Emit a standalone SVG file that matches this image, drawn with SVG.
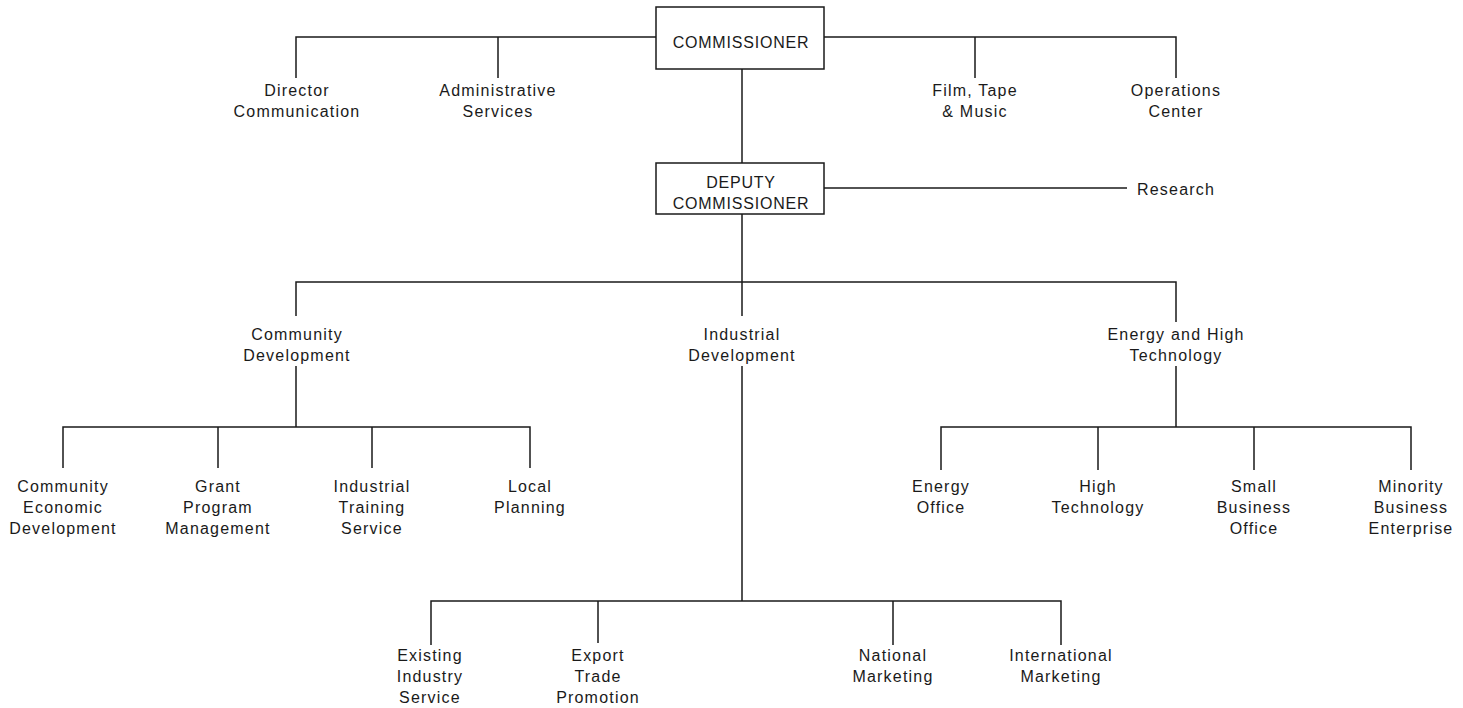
<svg xmlns="http://www.w3.org/2000/svg" width="1463" height="708" viewBox="0 0 1463 708">
<style>
text{font-family:"Liberation Sans",Arial,sans-serif;font-size:16px;fill:#1a1a1a;text-anchor:middle;letter-spacing:1.2px}
text.caps{letter-spacing:0.8px}
text.left{text-anchor:start}
.box{fill:#fff;stroke:#1a1a1a;stroke-width:1.5}
#connectors path{fill:none;stroke:#1a1a1a;stroke-width:1.5}
</style>
<rect width="1463" height="708" fill="#fff"/>
<g id="connectors">
<path d="M296,78 V37 H656 M824,37 H1176 V78 M498,37 V78 M975,37 V78"/>
<path d="M742,69 V163"/>
<path d="M824,188 H1127"/>
<path d="M742,214 V316 M742,366 V601"/>
<path d="M296,316 V282 H1176 V322"/>
<path d="M296,366 V427 M63,468 V427 H530 V468 M218,427 V468 M372,427 V468"/>
<path d="M1176,366 V427 M941,470 V427 H1411 V470 M1098,427 V470 M1254,427 V470"/>
<path d="M431,645 V601 H1061 V645 M598,601 V643 M893,601 V645"/>
</g>
<g id="commissioner"><rect class="box" x="656" y="7" width="168" height="62"/><text class="caps" x="741" y="48">COMMISSIONER</text></g>
<g id="deputy"><rect class="box" x="656" y="163" width="168" height="51"/><text class="caps" x="741" y="188">DEPUTY</text><text class="caps" x="741" y="209">COMMISSIONER</text></g>
<g id="director"><text x="297" y="96">Director</text><text x="297" y="117">Communication</text></g>
<g id="admin"><text x="498" y="96">Administrative</text><text x="498" y="117">Services</text></g>
<g id="film"><text x="975" y="96">Film, Tape</text><text x="975" y="117">&amp; Music</text></g>
<g id="operations"><text x="1176" y="96">Operations</text><text x="1176" y="117">Center</text></g>
<g id="research"><text class="left" x="1137" y="195">Research</text></g>
<g id="community"><text x="297" y="340">Community</text><text x="297" y="361">Development</text></g>
<g id="industrial"><text x="742" y="340">Industrial</text><text x="742" y="361">Development</text></g>
<g id="energy"><text x="1176" y="340">Energy and High</text><text x="1176" y="361">Technology</text></g>
<g id="ced"><text x="63" y="492">Community</text><text x="63" y="513">Economic</text><text x="63" y="534">Development</text></g>
<g id="grant"><text x="218" y="492">Grant</text><text x="218" y="513">Program</text><text x="218" y="534">Management</text></g>
<g id="training"><text x="372" y="492">Industrial</text><text x="372" y="513">Training</text><text x="372" y="534">Service</text></g>
<g id="local"><text x="530" y="492">Local</text><text x="530" y="513">Planning</text></g>
<g id="energyoffice"><text x="941" y="492">Energy</text><text x="941" y="513">Office</text></g>
<g id="hightech"><text x="1098" y="492">High</text><text x="1098" y="513">Technology</text></g>
<g id="smallbiz"><text x="1254" y="492">Small</text><text x="1254" y="513">Business</text><text x="1254" y="534">Office</text></g>
<g id="minority"><text x="1411" y="492">Minority</text><text x="1411" y="513">Business</text><text x="1411" y="534">Enterprise</text></g>
<g id="existing"><text x="430" y="661">Existing</text><text x="430" y="682">Industry</text><text x="430" y="703">Service</text></g>
<g id="export"><text x="598" y="661">Export</text><text x="598" y="682">Trade</text><text x="598" y="703">Promotion</text></g>
<g id="national"><text x="893" y="661">National</text><text x="893" y="682">Marketing</text></g>
<g id="international"><text x="1061" y="661">International</text><text x="1061" y="682">Marketing</text></g>
</svg>
